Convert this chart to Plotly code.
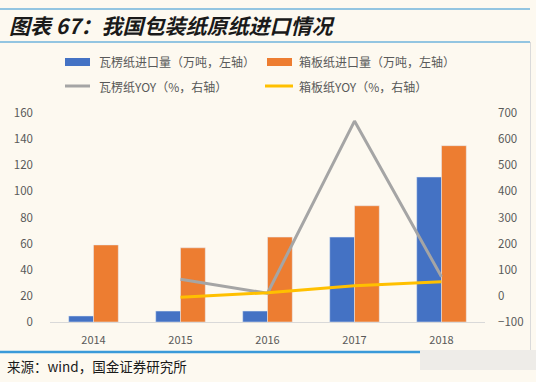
import plotly.graph_objects as go

years = ["2014", "2015", "2016", "2017", "2018"]
corrugated_import = [4.6, 8.4, 8.4, 65, 111]
board_import = [59, 56.8, 65, 89, 135]
corrugated_yoy = [None, 64, 10, 669, 73]
board_yoy = [None, -5, 12, 39, 54]

names = ["瓦楞纸进口量（万吨，左轴）", "箱板纸进口量（万吨，左轴）",
         "瓦楞纸YOY（%，右轴）", "箱板纸YOY（%，右轴）"]
colors = ["#4472C4", "#ED7D31", "#A5A5A5", "#FFC000"]

BG = "#FDF9F0"
TXT = "#595959"
CJK = "Noto Sans CJK SC"

# plot-area geometry in pixels
L, R, T, B = 50, 485, 113, 322
W, H = R - L, B - T


def px(x):
    return (x - L) / W


def py(y):
    return (B - y) / H


fig = go.Figure()
fig.add_trace(go.Bar(x=years, y=corrugated_import, name=names[0], marker_color=colors[0]))
fig.add_trace(go.Bar(x=years, y=board_import, name=names[1], marker_color=colors[1]))
fig.add_trace(go.Scatter(x=years, y=corrugated_yoy, name=names[2], yaxis="y2", mode="lines",
                         line=dict(color=colors[2], width=3)))
fig.add_trace(go.Scatter(x=years, y=board_yoy, name=names[3], yaxis="y2", mode="lines",
                         line=dict(color=colors[3], width=3)))

shapes = [
    dict(type="line", x0=px(0), x1=px(530), y0=py(9), y1=py(9), line=dict(color="#6FB3DC", width=1.5)),
    dict(type="line", x0=px(0), x1=px(530), y0=py(42), y1=py(42), line=dict(color="#6FB3DC", width=1.5)),
    dict(type="line", x0=px(530.5), x1=px(530.5), y0=py(350), y1=py(42), line=dict(color="#DADADA", width=1)),
    dict(type="line", x0=px(0), x1=px(420), y0=py(352), y1=py(352), line=dict(color="#3A9AD9", width=2.5)),
    dict(type="rect", x0=px(420), x1=px(536), y0=py(370), y1=py(350), fillcolor="#EEECE8",
         line=dict(width=0), layer="above"),
    # legend keys
    dict(type="rect", x0=px(65), x1=px(90), y0=py(66), y1=py(58), fillcolor=colors[0], line=dict(width=0)),
    dict(type="rect", x0=px(267), x1=px(292), y0=py(66), y1=py(58), fillcolor=colors[1], line=dict(width=0)),
    dict(type="line", x0=px(65), x1=px(90), y0=py(86), y1=py(86), line=dict(color=colors[2], width=3)),
    dict(type="line", x0=px(265), x1=px(293), y0=py(86), y1=py(86), line=dict(color=colors[3], width=3)),
]
for s in shapes:
    s["xref"] = "paper"
    s["yref"] = "paper"

legend_pos = [(97, 62), (297, 62), (97, 86), (297, 86)]
annotations = [
    dict(text="<b>图表 67：我国包装纸原纸进口情况</b>", x=px(7), y=py(25), xanchor="left",
         yanchor="middle", font=dict(family=CJK, size=21, color="#1A1A1A", style="italic")),
    dict(text="来源：wind，国金证券研究所", x=px(5), y=py(366), xanchor="left", yanchor="middle",
         font=dict(family=CJK, size=13.5, color="#1A1A1A")),
]
for name, (lx, ly) in zip(names, legend_pos):
    annotations.append(dict(text=name, x=px(lx), y=py(ly), xanchor="left", yanchor="middle",
                            font=dict(family=CJK, size=12, color=TXT)))
for a in annotations:
    a["xref"] = "paper"
    a["yref"] = "paper"
    a["showarrow"] = False

fig.update_layout(
    width=536, height=382,
    paper_bgcolor=BG, plot_bgcolor=BG,
    margin=dict(l=L, r=536 - R, t=T, b=382 - B, autoexpand=False),
    barmode="group", bargap=0.43, bargroupgap=0,
    font=dict(family=CJK, size=11, color=TXT),
    showlegend=False,
    xaxis=dict(showgrid=False, showline=True, linecolor="#D9D9D9", linewidth=1,
               ticks="", ticklabelstandoff=8, tickfont=dict(size=11, color=TXT)),
    yaxis=dict(range=[0, 160], dtick=20, showgrid=False, zeroline=False, showline=False,
               ticks="", ticklabelstandoff=16, tickfont=dict(size=11.5, color=TXT)),
    yaxis2=dict(range=[-100, 700], dtick=100, overlaying="y", side="right", showgrid=False,
                zeroline=False, showline=False, ticks="", ticklabelstandoff=12,
                tickfont=dict(size=11.5, color=TXT)),
    shapes=shapes,
    annotations=annotations,
)

fig.write_html("out.html", config={"displayModeBar": False},
               post_script="document.body.style.margin='0';"
               "document.body.style.background='" + BG + "';")
